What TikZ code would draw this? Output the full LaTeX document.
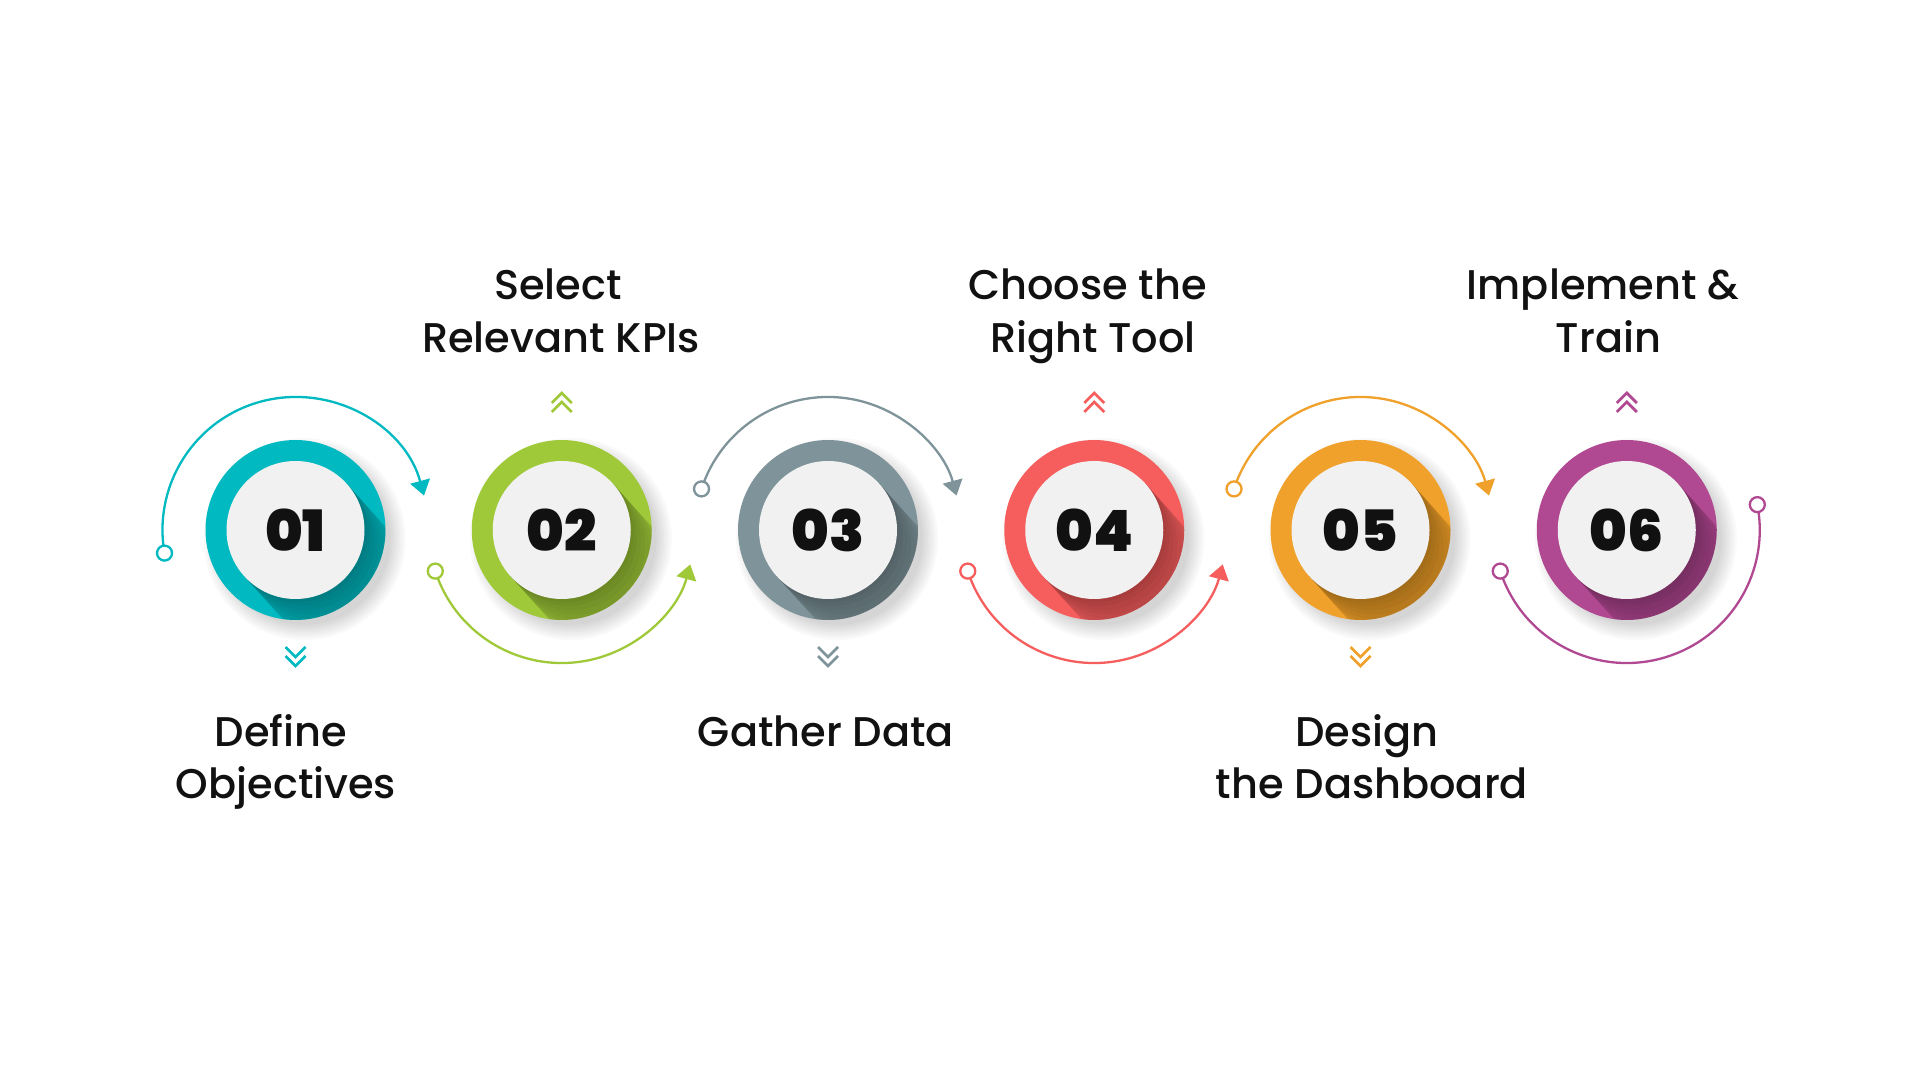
\documentclass[tikz,border=0pt]{standalone}
\usepackage{fontspec}
\setmainfont{Poppins Medium}
\newfontfamily\numfont{Poppins Black}
\usetikzlibrary{arrows.meta}
\definecolor{c1}{RGB}{0,185,193}
\definecolor{c2}{RGB}{160,201,58}
\definecolor{c3}{RGB}{126,148,154}
\definecolor{c4}{RGB}{246,94,94}
\definecolor{c5}{RGB}{240,161,43}
\definecolor{c6}{RGB}{177,73,146}
\definecolor{discfill}{RGB}{241,241,241}
\definecolor{txt}{RGB}{17,17,17}
\tikzset{
  ring/.style={circle, minimum size=180pt, inner sep=0pt, fill=#1},
  disc/.style={circle, minimum size=138pt, inner sep=0pt, fill=discfill},
  numtext/.style={font=\numfont\fontsize{57}{57}\selectfont, text=txt, inner sep=0pt},
  lab/.style={font=\fontsize{41.5}{48}\selectfont, text=txt, anchor=base, inner sep=0pt},
  arcline/.style={draw=#1, line width=2.3pt},
  enddot/.style={circle, draw=#1, line width=2.3pt, fill=white, minimum size=15pt, inner sep=0pt},
  chev/.style={draw=#1, line width=2.8pt},
  tiparrow/.style={-{Triangle[length=15pt,width=20pt]}}
}
\begin{document}
\begin{tikzpicture}[x=1pt,y=1pt]
\useasboundingbox (0,0) rectangle (1920,1080);
\fill[white] (0,0) rectangle (1920,1080);
% circles
\foreach \i/\col in {1/c1,2/c2,3/c3,4/c4,5/c5,6/c6} {
  \pgfmathsetmacro\cx{295.5+266.25*(\i-1)}
  \foreach \k in {0,...,6} \fill[black, opacity=0.022] (\cx+9,541) circle (86+2.5*\k);
  \node[ring=\col] (ring\i) at (\cx,550) {};
  \begin{scope}
    \clip (\cx,550) circle (90);
    \foreach \L in {86,74,63,53,44,36,28,21,15,9,4} {
      \begin{scope}[shift={(\cx,550)}]
        \begin{scope}[rotate=-48]
          \fill[black,opacity=0.03] (0,69) -- (\L,69) arc[start angle=90,end angle=-90,radius=69] -- (0,-69) -- cycle;
        \end{scope}
      \end{scope}
    }
  \end{scope}
  \node[disc] (disc\i) at (ring\i.center) {};
  \node[numtext] (num\i) at (disc\i.center) {0\i};
}
% arcs
\draw[arcline=c1, tiparrow] ([shift={(190:133)}]ring1.center) arc[start angle=190,end angle=15,radius=133];
\node[enddot=c1] (s1) at ([shift={(190:133)}]ring1.center) {};
\draw[arcline=c2, tiparrow] ([shift={(198:133)}]ring2.center) arc[start angle=198,end angle=345,radius=133];
\node[enddot=c2] (s2) at ([shift={(198:133)}]ring2.center) {};
\draw[arcline=c3, tiparrow] ([shift={(162:133)}]ring3.center) arc[start angle=162,end angle=15,radius=133];
\node[enddot=c3] (s3) at ([shift={(162:133)}]ring3.center) {};
\draw[arcline=c4, tiparrow] ([shift={(198:133)}]ring4.center) arc[start angle=198,end angle=345,radius=133];
\node[enddot=c4] (s4) at ([shift={(198:133)}]ring4.center) {};
\draw[arcline=c5, tiparrow] ([shift={(162:133)}]ring5.center) arc[start angle=162,end angle=15,radius=133];
\node[enddot=c5] (s5) at ([shift={(162:133)}]ring5.center) {};
\draw[arcline=c6] ([shift={(198:133)}]ring6.center) arc[start angle=198,end angle=371,radius=133];
\node[enddot=c6] (s6) at ([shift={(198:133)}]ring6.center) {};
\node[enddot=c6] (e6) at ([shift={(11:133)}]ring6.center) {};
% chevrons
\foreach \i/\col in {1/c1,3/c3,5/c5} {
  \pgfmathsetmacro\cx{295.5+266.25*(\i-1)}
  \draw[chev=\col] (\cx-10,433) -- (\cx,423) -- (\cx+10,433) (\cx-10,424) -- (\cx,414) -- (\cx+10,424);
}
\foreach \i/\col in {2/c2,4/c4,6/c6} {
  \pgfmathsetmacro\cx{295.5+266.25*(\i-1)}
  \draw[chev=\col] (\cx-10,677) -- (\cx,687) -- (\cx+10,677) (\cx-10,668) -- (\cx,678) -- (\cx+10,668);
}
% labels
\node[lab] (t2a) at (558,780) {Select};
\node[lab] (t2b) at (561,727) {Relevant KPIs};
\node[lab] (t4a) at (1087.5,780) {Choose the};
\node[lab] (t4b) at (1093,727) {Right Tool};
\node[lab] (t6a) at (1603,780) {Implement \&};
\node[lab] (t6b) at (1608.5,727) {Train};
\node[lab] (t1a) at (281,333) {Define};
\node[lab] (t1b) at (286,281) {Objectives};
\node[lab] (t3a) at (826,333) {Gather Data};
\node[lab] (t5a) at (1367,333) {Design};
\node[lab] (t5b) at (1372,281) {the Dashboard};
\end{tikzpicture}
\end{document}
